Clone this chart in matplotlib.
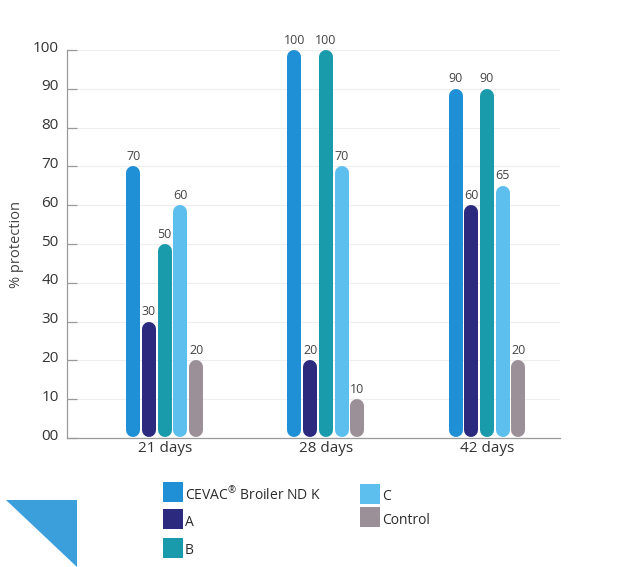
import matplotlib
matplotlib.use("Agg")
import matplotlib.pyplot as plt
from matplotlib.patches import Polygon, Rectangle
import matplotlib.transforms as mtransforms

plt.rcParams['font.family'] = ['Open Sans', 'DejaVu Sans']

# Data
groups = ["21 days", "28 days", "42 days"]
series = ["CEVAC$^{\\mathregular{®}}$ Broiler ND K", "A", "B", "C", "Control"]
colors = ["#1f8fd6", "#2b2a7f", "#1a9bab", "#5cbfee", "#9b9097"]
values = {
    "CEVAC": [70, 100, 90],
    "A": [30, 20, 60],
    "B": [50, 100, 90],
    "C": [60, 70, 65],
    "Control": [20, 10, 20],
}
series_keys = ["CEVAC", "A", "B", "C", "Control"]
yticks = [0, 10, 20, 30, 40, 50, 60, 70, 80, 90, 100]

W, H = 618, 567
fig = plt.figure(figsize=(W / 100, H / 100), dpi=100)
ax = fig.add_axes([67 / W, (H - 438) / H, (560 - 67) / W, 388 / H])

xmin, xmax = -0.606, 2.453
ax.set_xlim(xmin, xmax)
ax.set_ylim(0, 100)

# faint horizontal guides
for t in yticks[1:]:
    ax.axhline(t, color="#eeeeee", lw=0.8, zorder=0)

step = 0.0975
bar_px = 14.0
fig.canvas.draw()
bbox = ax.get_window_extent()
y_per_px = 100 / bbox.height
r = bar_px / 2 * y_per_px          # cap radius in data units
lw_pt = bar_px * 72 / fig.dpi      # bar width in points

# pill-shaped bars: thick lines with round caps spanning 0..value
for si, key in enumerate(series_keys):
    for gi, v in enumerate(values[key]):
        xc = gi + (si - 2) * step
        ax.plot([xc, xc], [r + 0.3, v - r], color=colors[si], lw=lw_pt,
                solid_capstyle="round", zorder=2)
        ax.annotate(str(v), (xc, v), xytext=(0, 2.5), textcoords="offset points",
                    ha="center", va="bottom", fontsize=9, color="#444444",
                    zorder=3)

for s in ["top", "right"]:
    ax.spines[s].set_visible(False)
for s in ["left", "bottom"]:
    ax.spines[s].set_color("#9a9a9a")
    ax.spines[s].set_linewidth(0.9)

ax.set_yticks(yticks)
ax.set_yticklabels([f"{t:02d}" for t in yticks])
ax.tick_params(axis="y", direction="in", length=7, width=0.9, color="#9a9a9a",
               labelsize=11, labelcolor="#333333", pad=6)
offset = mtransforms.ScaledTranslation(0, 4 / 100, fig.dpi_scale_trans)
for lab in ax.get_yticklabels():
    lab.set_transform(lab.get_transform() + offset)

ax.set_xticks(range(len(groups)))
ax.set_xticklabels(groups)
ax.tick_params(axis="x", length=0, labelsize=11, labelcolor="#333333", pad=2)

ax.set_ylabel("% protection", fontsize=10.5, color="#444444", labelpad=6)

# legend
col_x = [163, 360]
rows = [(0, 0, 492), (0, 1, 519), (0, 2, 548), (1, 0, 494), (1, 1, 517)]
for si, (c, rr, yc) in enumerate(rows):
    x0 = col_x[c]
    fig.patches.append(Rectangle((x0 / W, 1 - (yc + 10) / H), 20 / W, 20 / H,
                                 transform=fig.transFigure, facecolor=colors[si],
                                 edgecolor="none"))
    fig.text((x0 + 22) / W, 1 - (yc + 3) / H, series[si], fontsize=10,
             color="#2a2a2a", ha="left", va="center")

# corner triangle
fig.patches.append(Polygon([(6 / W, 1 - 500 / H), (77 / W, 1 - 500 / H), (77 / W, 0)],
                           closed=True, transform=fig.transFigure,
                           facecolor="#3b9fdc", edgecolor="none"))

fig.savefig("out.png", dpi=100)
